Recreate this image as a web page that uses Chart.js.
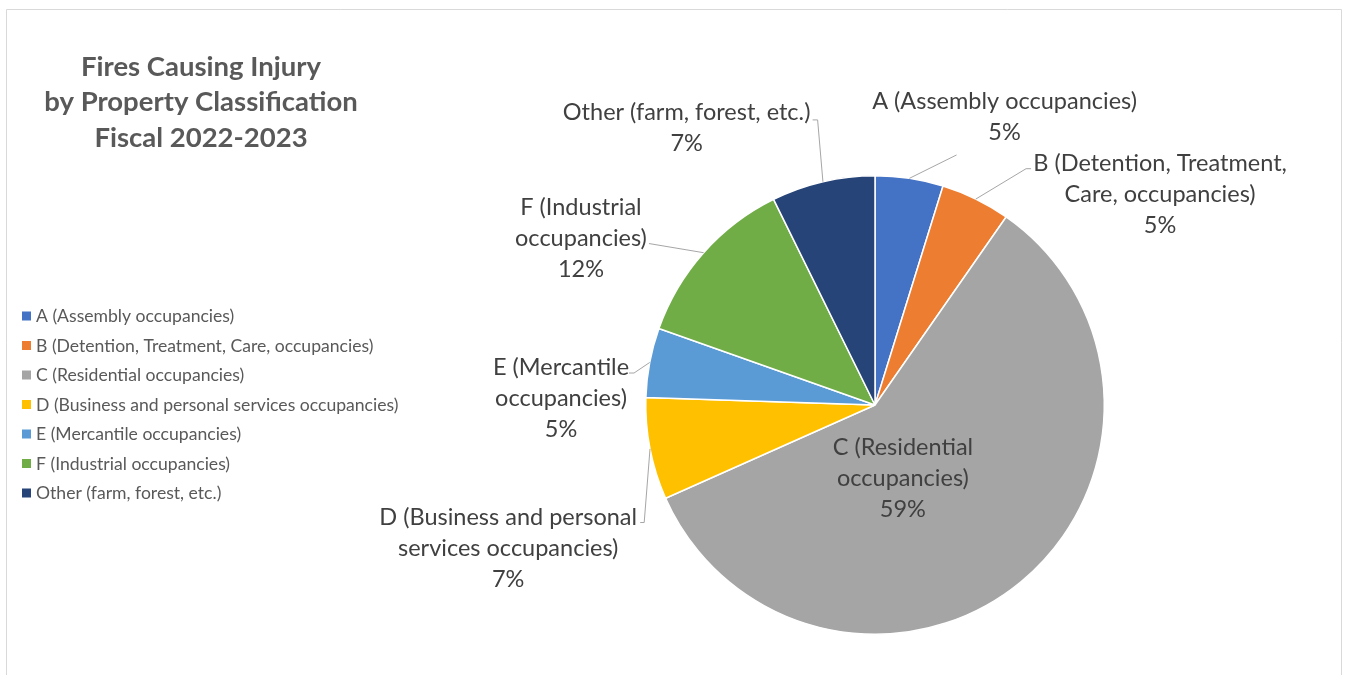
<!DOCTYPE html>
<html><head><meta charset="utf-8">
<script src="https://cdn.jsdelivr.net/npm/chart.js@4.4.0/dist/chart.umd.min.js"></script>
<style>html,body{margin:0;padding:0;background:#fff;overflow:hidden}canvas{display:block}</style>
</head><body>
<canvas id="c" width="1348" height="675"></canvas>
<script>
// ---- data ----
const categories = [
  "A (Assembly occupancies)",
  "B (Detention, Treatment, Care, occupancies)",
  "C (Residential occupancies)",
  "D (Business and personal services occupancies)",
  "E (Mercantile occupancies)",
  "F (Industrial occupancies)",
  "Other (farm, forest, etc.)"
];
const values = [4.8, 4.9, 58.7, 7.2, 4.9, 12.3, 7.3];
const titleLines = ["Fires Causing Injury", "by Property Classification", "Fiscal 2022-2023"];
const labelLines = [
  ["A (Assembly occupancies)"],
  ["B (Detention, Treatment,", "Care, occupancies)"],
  ["C (Residential", "occupancies)"],
  ["D (Business and personal", "services occupancies)"],
  ["E (Mercantile", "occupancies)"],
  ["F (Industrial", "occupancies)"],
  ["Other (farm, forest, etc.)"]
];
// ---- style / layout ----
const colors = ["#4472C4", "#ED7D31", "#A5A5A5", "#FFC000", "#5B9BD5", "#70AD47", "#264478"];
const FONT = "Lato, 'Open Sans', sans-serif";
// label block centre, offset from pie centre (px at r=230)
const labelOffset = [[130, -289.5], [286, -211.5], [28, 74], [-368, 144], [-315, -6.5], [-295, -167.5], [-189, -278]];
// leader line points relative to label block centre
const leaderPts = [
  [[-48, 38.5]],
  [[-134, -25.5], [-129, -25.5]],
  [],
  [[136, -26], [132, -26]],
  [[73, -25.5], [68, -25.5]],
  [[68, 5.5]],
  [[131, -8], [126, -8]]
];

const overlay = {
  id: 'overlay',
  beforeDraw(chart) {
    const ctx = chart.ctx;
    ctx.save();
    ctx.fillStyle = '#fff';
    ctx.fillRect(0, 0, chart.width, chart.height);
    // frame
    ctx.strokeStyle = '#d9d9d9';
    ctx.lineWidth = 1;
    ctx.beginPath();
    ctx.moveTo(6.5, 700); ctx.lineTo(6.5, 9.5); ctx.lineTo(1341.5, 9.5); ctx.lineTo(1341.5, 700);
    ctx.stroke();
    // title
    ctx.fillStyle = '#595959';
    ctx.font = "bold 27.5px " + FONT;
    ctx.textAlign = 'center';
    ctx.textBaseline = 'middle';
    titleLines.forEach((t, i) => ctx.fillText(t, 201, 67 + i * 35.5));
    // legend
    ctx.font = "17.6px " + FONT;
    ctx.textAlign = 'left';
    categories.forEach((c, i) => {
      const y = 316 + i * 29.5;
      ctx.fillStyle = colors[i];
      ctx.fillRect(22, y - 4.5, 9, 9);
      ctx.fillStyle = '#595959';
      ctx.fillText(c, 36, y + 0.5);
    });
    ctx.restore();
  },
  afterDatasetsDraw(chart) {
    const ctx = chart.ctx;
    const meta = chart.getDatasetMeta(0);
    const total = values.reduce((a, b) => a + b, 0);
    ctx.save();
    meta.data.forEach((arc, i) => {
      const r = arc.outerRadius;
      const k = r / 230;
      const mid = (arc.startAngle + arc.endAngle) / 2;
      const sx = arc.x + Math.cos(mid) * r;
      const sy = arc.y + Math.sin(mid) * r;
      const cx = arc.x + labelOffset[i][0] * k;
      const cy = arc.y + labelOffset[i][1] * k;
      if (leaderPts[i].length) {
        ctx.strokeStyle = '#a6a6a6';
        ctx.lineWidth = 1;
        ctx.beginPath();
        ctx.moveTo(sx, sy);
        leaderPts[i].forEach(p => ctx.lineTo(cx + p[0], cy + p[1]));
        ctx.stroke();
      }
      const lines = labelLines[i].concat([Math.round(values[i] / total * 100) + '%']);
      ctx.fillStyle = '#404040';
      ctx.font = "23.5px " + FONT;
      ctx.textAlign = 'center';
      ctx.textBaseline = 'middle';
      const lh = 31;
      const y0 = cy - (lines.length - 1) * lh / 2;
      lines.forEach((t, j) => ctx.fillText(t, cx, y0 + j * lh));
    });
    ctx.restore();
  }
};

new Chart(document.getElementById('c'), {
  type: 'pie',
  data: {
    labels: categories,
    datasets: [{
      data: values,
      backgroundColor: colors,
      borderColor: '#ffffff',
      borderWidth: 1.5
    }]
  },
  options: {
    responsive: false,
    animation: false,
    layout: { padding: { left: 645, top: 175, right: 243, bottom: 40 } },
    plugins: { legend: { display: false }, tooltip: { enabled: false }, title: { display: false } }
  },
  plugins: [overlay]
});
</script>
</body></html>
